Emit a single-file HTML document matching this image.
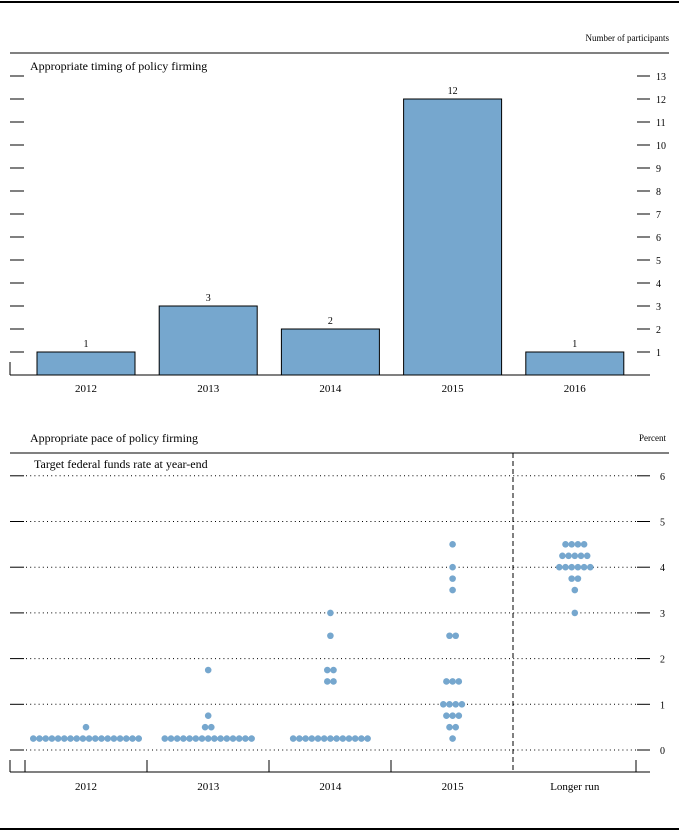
<!DOCTYPE html>
<html><head><meta charset="utf-8"><style>
body{margin:0;background:#fff}
svg{display:block;font-family:"Liberation Serif",serif;}
</style></head><body>
<svg id="c" width="679" height="832">
<line x1="0" y1="2" x2="679" y2="2" stroke="#000" stroke-width="2"/>
<line x1="0" y1="829" x2="679" y2="829" stroke="#000" stroke-width="2"/>
<text x="669" y="41" font-size="9" text-anchor="end">Number of participants</text>
<line x1="10" y1="53" x2="669" y2="53" stroke="#000"/>
<text x="30" y="70" font-size="12">Appropriate timing of policy firming</text>
<text x="30" y="442" font-size="12">Appropriate pace of policy firming</text>
<text x="666" y="441" font-size="9" text-anchor="end">Percent</text>
<line x1="10" y1="453" x2="669" y2="453" stroke="#000"/>
<text x="34" y="468" font-size="12">Target federal funds rate at year-end</text>
<g id="gtop"></g><g id="gbot"></g>
</svg>
<script>
const barYears=["2012","2013","2014","2015","2016"];
const barCounts=[1,3,2,12,1];
const barTicks=[1,2,3,4,5,6,7,8,9,10,11,12,13];
const dotCats=["2012","2013","2014","2015","Longer run"];
const dotRates=[
 [0.25,0.5],
 [0.25,0.5,0.75,1.75],
 [0.25,1.5,1.75,2.5,3],
 [0.25,0.5,0.75,1,1.5,2.5,3.5,3.75,4,4.5],
 [3,3.5,3.75,4,4.25,4.5]];
const dotCounts=[
 [18,1],
 [15,2,1,1],
 [13,2,2,1,1],
 [1,2,3,4,3,2,1,1,1,1],
 [1,1,2,6,5,4]];
const pctTicks=[0,1,2,3,4,5,6];
const NS="http://www.w3.org/2000/svg";
function mk(p,t,a){const e=document.createElementNS(NS,t);for(const k in a)e.setAttribute(k,a[k]);p.appendChild(e);return e;}
const gTop=document.getElementById('gtop'),gBot=document.getElementById('gbot');
const xc=i=>86+i*122.2;
const yb=v=>375-v*23;
let l=mk(gTop,'line',{x1:10,y1:375,x2:650,y2:375,stroke:'#000'});


barTicks.forEach(t=>{
 let a=mk(gTop,'line',{x1:10,y1:yb(t),x2:24,y2:yb(t),stroke:'#000'});
 
 
 let b=mk(gTop,'line',{x1:637,y1:yb(t),x2:650,y2:yb(t),stroke:'#000'});
 
 
 let tx=mk(gTop,'text',{x:656,y:yb(t)+4,'font-size':10});tx.textContent=t;
 
 
});
let lt=mk(gTop,'line',{x1:10,y1:362,x2:10,y2:375,stroke:'#000'});


barYears.forEach((y,i)=>{
 let r=mk(gTop,'rect',{x:xc(i)-49,y:yb(barCounts[i]),width:98,height:barCounts[i]*23,fill:'#76a7ce',stroke:'#000','stroke-width':1});
 
 
 let v=mk(gTop,'text',{x:xc(i),y:yb(barCounts[i])-5,'font-size':10,'text-anchor':'middle'});v.textContent=barCounts[i];
 
 
 let c=mk(gTop,'text',{x:xc(i),y:392,'font-size':11,'text-anchor':'middle'});c.textContent=y;
 
 
});
const yp=v=>750-v*45.7;
pctTicks.forEach(t=>{
 let a=mk(gBot,'line',{x1:10,y1:yp(t),x2:24,y2:yp(t),stroke:'#000'});
 
 
 let d=mk(gBot,'line',{x1:26,y1:yp(t),x2:636,y2:yp(t),stroke:'#000','stroke-dasharray':'1 3.2'});
 
 
 let b=mk(gBot,'line',{x1:637,y1:yp(t),x2:650,y2:yp(t),stroke:'#000'});
 
 
 let tx=mk(gBot,'text',{x:660,y:yp(t)+4,'font-size':10});tx.textContent=t;
 
 
});
let dl=mk(gBot,'line',{x1:513,y1:453,x2:513,y2:772,stroke:'#000','stroke-dasharray':'5 3'});


let ax=mk(gBot,'line',{x1:10,y1:772,x2:650,y2:772,stroke:'#000'});


[10,25,147,269,391,636].forEach(x=>{
 let t=mk(gBot,'line',{x1:x,y1:760,x2:x,y2:772,stroke:'#000'});
 
 
});
dotCats.forEach((c,i)=>{
 dotRates[i].forEach((r,j)=>{
  const n=dotCounts[i][j];
  for(let k=0;k<n;k++){
   let d=mk(gBot,'circle',{cx:xc(i)+(k-(n-1)/2)*6.2,cy:yp(r),r:3.3,fill:'#76a7ce'});
   
   
  }
 });
 let lb=mk(gBot,'text',{x:xc(i),y:790,'font-size':11,'text-anchor':'middle'});lb.textContent=c;
 
 
});
</script>
</body></html>
